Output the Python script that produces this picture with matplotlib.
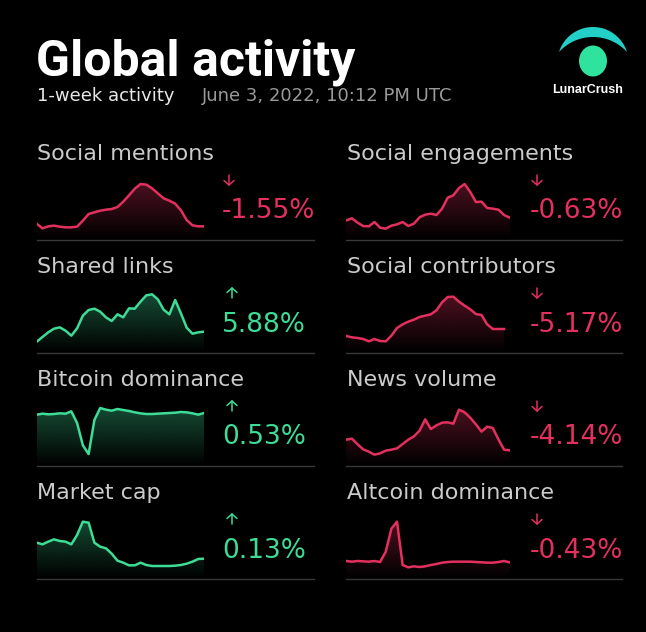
import numpy as np
import matplotlib
matplotlib.use("Agg")
from matplotlib import pyplot as plt
from matplotlib.colors import to_rgb
from matplotlib.patches import Polygon, Ellipse

###############################
# 1-week sparkline data, read #
# off the picture (rel. units)#
###############################
social_mentions = [45, 31, 37, 39, 36, 34, 34, 36, 54, 74, 79, 84, 87, 89, 95, 111,
                   130, 150, 164, 162, 151, 136, 121, 114, 105, 85, 56, 40, 37, 37]
shared_links = [30, 44, 58, 69, 73, 63, 48, 70, 108, 125, 129, 120, 103, 92, 112, 103,
                130, 129, 150, 169, 172, 157, 126, 112, 155, 115, 72, 54, 58, 60]
bitcoin_dominance = [150, 153, 151, 152, 154, 153, 160, 125, 58, 32, 134, 170, 165, 162, 167,
                     164, 161, 157, 154, 152, 152, 153, 154, 155, 156, 158, 157, 154, 150, 155]
market_cap = [105, 100, 108, 115, 110, 108, 100, 128, 168, 165, 105, 93, 88, 72, 51,
              45, 37, 37, 45, 38, 35, 35, 35, 35, 36, 38, 42, 48, 56, 57]
social_engagements = [55, 61, 48, 38, 37, 50, 33, 30, 39, 43, 50, 38, 45, 64, 72,
                      75, 71, 90, 123, 130, 152, 164, 140, 110, 111, 92, 90, 87, 71, 63]
social_contributors = [47, 43, 41, 38, 31, 38, 32, 31, 48, 71, 82, 90, 96, 104, 108,
                       112, 124, 148, 164, 165, 150, 138, 127, 113, 110, 82, 68, 68, 68]
news_volume = [75, 78, 61, 46, 39, 30, 34, 42, 45, 49, 62, 75, 85, 102, 136,
               107, 118, 126, 127, 123, 165, 157, 141, 121, 99, 114, 110, 76, 45, 43]
altcoin_dominance = [50, 48, 50, 49, 48, 50, 47, 78, 147, 168, 38, 31, 34, 32, 34,
                     38, 41, 45, 47, 48, 48, 48, 48, 47, 46, 45, 45, 47, 50, 46]

left_labels = ["Social mentions", "Shared links", "Bitcoin dominance", "Market cap"]
left_series = [social_mentions, shared_links, bitcoin_dominance, market_cap]
left_changes = [-1.55, 5.88, 0.53, 0.13]

right_labels = ["Social engagements", "Social contributors", "News volume", "Altcoin dominance"]
right_series = [social_engagements, social_contributors, news_volume, altcoin_dominance]
right_changes = [-0.63, -5.17, -4.14, -0.43]

W, H = 646, 632
RED = "#e3305e"
GREEN = "#3ddc97"
LABEL = "#cbcbcb"
SEP = "#383838"
N_STEPS = 29          # x range of every sparkline
VMIN, VMAX = -4, 200  # y range of every sparkline

fig = plt.figure(figsize=(W / 100, H / 100), dpi=100, facecolor="black")
bg = fig.add_axes([0, 0, 1, 1])
bg.set_xlim(0, W)
bg.set_ylim(H, 0)
bg.axis("off")

##########
# Header #
##########
bg.text(36, 75, "Global activity", color="white", fontsize=36, fontweight="bold",
        family=["Liberation Sans Narrow", "Roboto"], va="baseline")
bg.text(37, 101, "1-week activity", color="#e8e8e8", fontsize=13, va="baseline")
bg.text(202, 101, "June 3, 2022, 10:12 PM UTC", color="#9a9a9a", fontsize=13, va="baseline")

# logo: crescent + dot
t_out = np.radians(np.linspace(-162.7, -17.3, 60))
t_in = np.radians(np.linspace(-42.4, -137.6, 60))
crescent = np.vstack([np.column_stack([593 + 35.6 * np.cos(t_out), 62.6 + 35.6 * np.sin(t_out)]),
                      np.column_stack([593 + 46 * np.cos(t_in), 83 + 46 * np.sin(t_in)])])
bg.add_patch(Polygon(crescent, closed=True, facecolor="#22d0c8", edgecolor="none"))
bg.add_patch(Ellipse((593, 61), 28, 31, facecolor="#2fe39f", edgecolor="none"))
bg.text(588, 93, "LunarCrush", color="white", fontsize=9, fontweight="bold",
        family="Liberation Sans", ha="center", va="baseline")


def sparkline(x0, x1, top, values, color):
    ax = fig.add_axes([x0 / W, 1 - (top + 68) / H, (x1 - x0) / W, 68 / H])
    ax.set_xlim(0, N_STEPS)
    ax.set_ylim(VMIN, VMAX)
    ax.axis("off")
    x = np.arange(len(values))
    ax.plot(x, values, color=color, lw=1.8, solid_joinstyle="round", zorder=3)
    poly = ax.fill_between(x, values, VMIN, facecolor="none", edgecolor="none")
    grad = np.zeros((120, 1, 4))
    grad[..., :3] = to_rgb(color)
    grad[:, 0, 3] = np.linspace(0.40, 0.0, 120)
    im = ax.imshow(grad, extent=[0, N_STEPS, VMIN, VMAX], aspect="auto",
                   origin="upper", zorder=2, interpolation="bilinear")
    im.set_clip_path(poly.get_paths()[0], transform=ax.transData)


def arrow(x, y, up, color):
    s = -1 if up else 1
    bg.plot([x, x], [y - 5 * s, y + 5 * s], color=color, lw=1.1, solid_capstyle="round")
    bg.plot([x - 5, x, x + 5], [y + 0.5 * s, y + 5 * s, y + 0.5 * s], color=color, lw=1.1,
            solid_capstyle="round", solid_joinstyle="miter")


def column(labels, series, changes, label_x, spark_x0, spark_x1, value_x, sep_x1):
    for i in range(4):
        top = 172 + 113 * i
        color = GREEN if changes[i] >= 0 else RED
        bg.text(label_x, top - 12, labels[i], color=LABEL, fontsize=16, va="baseline")
        sparkline(spark_x0, spark_x1, top, series[i], color)
        arrow(value_x + (10 if changes[i] >= 0 else 7), top + 8, changes[i] >= 0, color)
        bg.text(value_x, top + 46.5, "%.2f%%" % changes[i], color=color, fontsize=19,
                va="baseline")
        bg.plot([spark_x0, sep_x1], [top + 68, top + 68], color=SEP, lw=1)


column(left_labels, left_series, left_changes, 37, 36.7, 204, 222, 314)
column(right_labels, right_series, right_changes, 347, 346.3, 509.7, 530, 622)

fig.savefig("out.png", dpi=100, facecolor=fig.get_facecolor())
